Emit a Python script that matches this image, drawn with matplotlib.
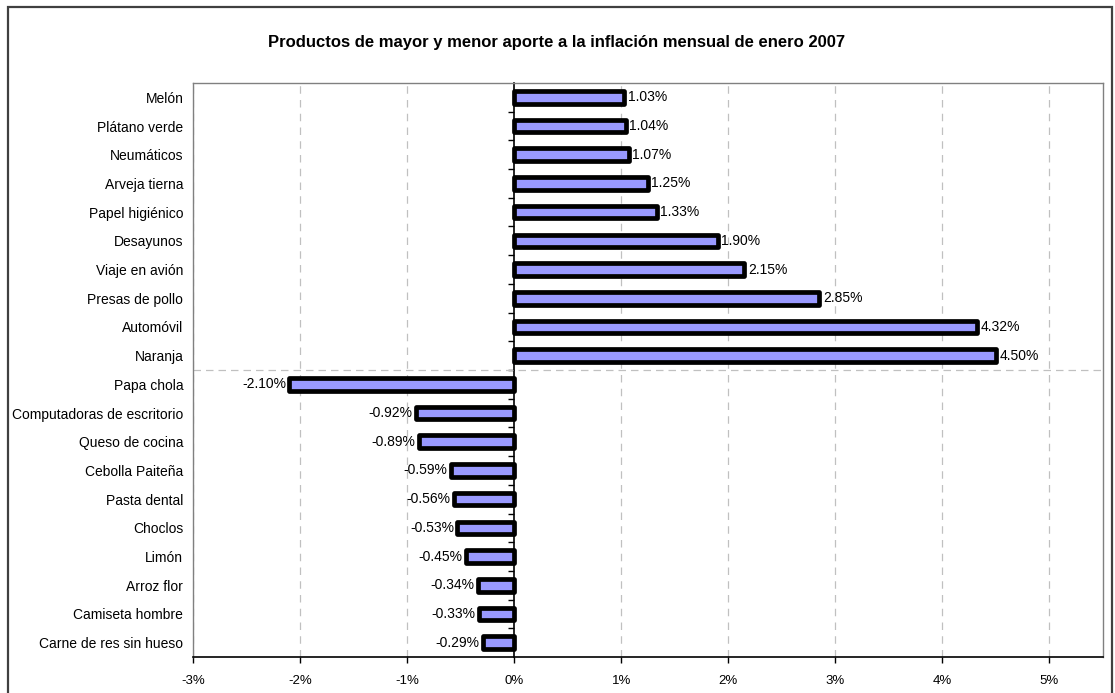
import matplotlib
matplotlib.use("Agg")
import matplotlib.pyplot as plt
from matplotlib.patches import Rectangle
from matplotlib.ticker import FuncFormatter

plt.rcParams['font.family'] = ['Liberation Sans', 'DejaVu Sans']

categories = ["Melón", "Plátano verde", "Neumáticos", "Arveja tierna", "Papel higiénico",
              "Desayunos", "Viaje en avión", "Presas de pollo", "Automóvil", "Naranja",
              "Papa chola", "Computadoras de escritorio", "Queso de cocina", "Cebolla Paiteña",
              "Pasta dental", "Choclos", "Limón", "Arroz flor", "Camiseta hombre",
              "Carne de res sin hueso"]
values = [1.03, 1.04, 1.07, 1.25, 1.33, 1.90, 2.15, 2.85, 4.32, 4.50,
          -2.10, -0.92, -0.89, -0.59, -0.56, -0.53, -0.45, -0.34, -0.33, -0.29]
x_ticks = [-3, -2, -1, 0, 1, 2, 3, 4, 5]
title = "Productos de mayor y menor aporte a la inflación mensual de enero 2007"

fig = plt.figure(figsize=(11.15, 6.93), dpi=100)
ax = fig.add_axes([193/1115, 1 - 657/693, (1103 - 193)/1115, (657 - 83)/693])

# outer chart frame
fig.patches.append(Rectangle((8/1115, -0.02), (1112 - 8)/1115, 1 - 7/693 + 0.02,
                             transform=fig.transFigure, fill=False,
                             edgecolor='#404040', linewidth=1.6, zorder=0))

y = list(range(len(categories)))
ax.barh(y, values, height=0.44, color='#9999FF', edgecolor='black',
        linewidth=3.4, joinstyle='round', zorder=3)

for yi, v in zip(y, values):
    if v >= 0:
        ax.annotate(f"{v:.2f}%", (v, yi), xytext=(2.5, 0), textcoords='offset points',
                    ha='left', va='center', fontsize=10)
    else:
        ax.annotate(f"{v:.2f}%", (v, yi), xytext=(-2.5, 0), textcoords='offset points',
                    ha='right', va='center', fontsize=10)

ax.set_xlim(-3, 5.5)
ax.set_ylim(len(categories) - 0.5, -0.5)
ax.set_xticks(x_ticks)
ax.xaxis.set_major_formatter(FuncFormatter(lambda v, p: f"{v:.0f}%"))
ax.tick_params(axis='x', direction='out', length=4, width=1, pad=9, labelsize=9.5)
ax.set_yticks(y)
ax.set_yticklabels(categories)
ax.tick_params(axis='y', length=0, pad=7, labelsize=10)

for xt in x_ticks:
    if xt != 0:
        ax.axvline(xt, color='#c0c0c0', linestyle=(0, (6, 5)), linewidth=0.9, zorder=1)

# separator between largest and smallest contributors
ax.axhline(9.5, color='#c0c0c0', linestyle=(0, (6, 4)), linewidth=0.9, zorder=1)

for s in ['top', 'right', 'left']:
    ax.spines[s].set_color('#808080')
    ax.spines[s].set_linewidth(1.0)
ax.spines['bottom'].set_color('black')
ax.spines['bottom'].set_linewidth(1.2)

# category axis at x = 0 with ticks at category boundaries
sec = ax.secondary_yaxis(3 / 8.5)
sec.set_yticks([i + 0.5 for i in range(len(categories) - 1)])
sec.set_yticklabels([])
sec.tick_params(direction='out', length=4, width=1, color='black')
sec.spines['left'].set_color('black')
sec.spines['left'].set_linewidth(1.2)

fig.text(557/1115, 1 - 43/693, title, ha='center', va='center',
         fontsize=12, fontweight='bold')

fig.savefig("out.png", dpi=100)
